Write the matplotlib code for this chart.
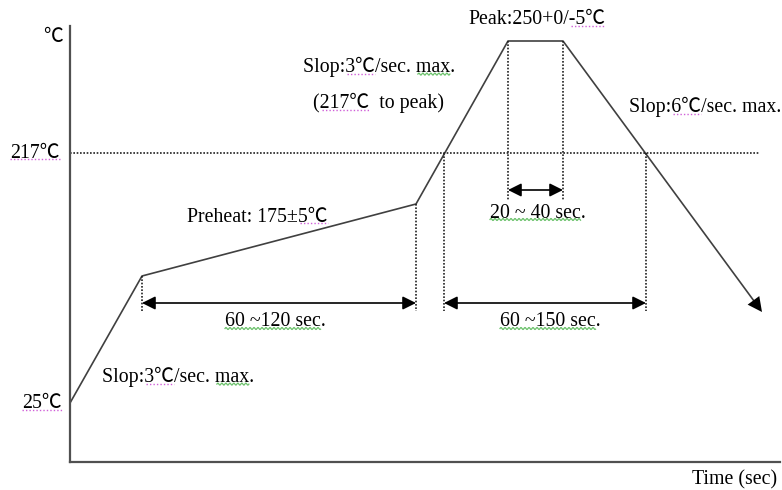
import matplotlib
matplotlib.use("Agg")
import matplotlib.pyplot as plt
import numpy as np

# schematic reflow profile (not to scale), units = drawing units from axis origin
profile_x = [0, 72, 346, 438, 493, 692]
profile_y = [59, 186, 258, 421, 421, 150]
liquidus_y = 309          # 217C line
cross_x = [374, 576]      # where the profile crosses 217C
arrow_y = 159             # 60~120 / 60~150 dimension arrows
dot_bottom = 151
peak_arrow_y = 272        # 20~40 dimension arrow
peak_dot_bottom = 262

texts = [
    # (x, y, text, ha)
    (-7, 424, "\u2103", "right"),
    (-10, 309, "217\u2103", "right"),
    (-8, 59, "25\u2103", "right"),
    (233, 395, "Slop:3\u2103/sec. max.", "left"),
    (243, 359, "(217\u2103  to peak)", "left"),
    (117, 245, "Preheat: 175\u00b15\u2103", "left"),
    (398, 442, "Peak:250+0/-5\u2103", "left"),
    (559, 355, "Slop:6\u2103/sec. max.", "left"),
    (420, 249, "20 ~ 40 sec.", "left"),
    (155, 140, "60 ~120 sec.", "left"),
    (430, 140, "60 ~150 sec.", "left"),
    (32, 85, "Slop:3\u2103/sec. max.", "left"),
]
# Word-style proofing marks: text index -> (substring, kind)
marks = {
    1: [("217\u2103", "dot")],
    2: [("25\u2103", "dot")],
    3: [("3\u2103", "dot"), ("max", "wave")],
    4: [("217\u2103", "dot")],
    5: [("5\u2103", "dot")],
    6: [("-5\u2103", "dot")],
    7: [("6\u2103", "dot")],
    8: [("20 ~ 40 sec", "wave")],
    9: [("60 ~120 sec", "wave")],
    10: [("60 ~150 sec", "wave")],
    11: [("3\u2103", "dot"), ("max", "wave")],
}

W, H = 782, 490
fig = plt.figure(figsize=(W / 100, H / 100), dpi=100)
ax = fig.add_axes([70 / W, 28 / H, 710 / W, 462 / H])
ax.set_xlim(0, 710)
ax.set_ylim(0, 462)
for s in ["top", "right"]:
    ax.spines[s].set_visible(False)
ax.spines["left"].set_bounds(0, 436)
for s in ["left", "bottom"]:
    ax.spines[s].set_color("#505050")
    ax.spines[s].set_linewidth(1.6)
ax.set_xticks([])
ax.set_yticks([])

fam = ["Liberation Serif", "Noto Sans CJK SC"]
fs = 14.3

# profile
line_c = "#404040"
ax.plot(profile_x[:-1] + [profile_x[-1] - 8], profile_y[:-1] + [profile_y[-1] + 11],
        color=line_c, lw=1.2, solid_capstyle="butt")
ax.annotate("", xy=(profile_x[-1], profile_y[-1]),
            xytext=(profile_x[-2], profile_y[-2]),
            arrowprops=dict(arrowstyle="-|>", color="black", lw=0, mutation_scale=26,
                            shrinkA=0, shrinkB=0))

# 217C dotted line
dot = dict(color="#202020", lw=1.2, ls=(0, (1, 1)))
ax.plot([0, 690], [liquidus_y, liquidus_y], **dot)

# vertical dotted guides
ax.plot([profile_x[1]] * 2, [profile_y[1], dot_bottom], **dot)
ax.plot([profile_x[2]] * 2, [profile_y[2], dot_bottom], **dot)
for cx in cross_x:
    ax.plot([cx, cx], [liquidus_y, dot_bottom], **dot)
for px in profile_x[3:5]:
    ax.plot([px, px], [profile_y[3], peak_dot_bottom], **dot)

# dimension arrows
arr = dict(arrowstyle="<|-|>", color="black", lw=1.2, mutation_scale=20,
           shrinkA=0, shrinkB=0)
ax.annotate("", xy=(profile_x[1], arrow_y), xytext=(profile_x[2], arrow_y), arrowprops=arr)
ax.annotate("", xy=(cross_x[0], arrow_y), xytext=(cross_x[1], arrow_y), arrowprops=arr)
ax.annotate("", xy=(profile_x[3], peak_arrow_y), xytext=(profile_x[4], peak_arrow_y),
            arrowprops=arr)

tobjs = []
for x, y, t, ha in texts:
    tobjs.append(ax.text(x, y, t, ha=ha, va="center", fontsize=fs, family=fam,
                         color="black", clip_on=False))

fig.text(777 / W, 1 - 480 / H, "Time (sec)", ha="right", va="center", fontsize=fs,
         family=fam)

# proofing underlines, placed from the measured text extents
fig.canvas.draw()
r = fig.canvas.get_renderer()


def width_of(s):
    if not s:
        return 0.0
    tmp = fig.text(0, 0, s, fontsize=fs, family=fam)
    w = tmp.get_window_extent(r).width
    tmp.remove()
    return w


for i, items in marks.items():
    t = tobjs[i]
    bb = t.get_window_extent(r)
    s = t.get_text()
    for sub, kind in items:
        k = s.index(sub)
        x0 = bb.x0 + width_of(s[:k]) + (2 if k else 0)
        x1 = bb.x0 + width_of(s[:k + len(sub)])
        yb = bb.y0 + 3.0
        if kind == "dot":
            fig.add_artist(plt.Line2D([x0 / W, x1 / W], [yb / H, yb / H],
                                      transform=fig.transFigure, color="#d060d8",
                                      lw=1.0, ls=(0, (1, 1.5))))
        else:
            xs = np.arange(x0, x1, 0.5)
            ys = yb + 1.0 * np.sin(2 * np.pi * (xs - x0) / 4.0)
            fig.add_artist(plt.Line2D(xs / W, ys / H, transform=fig.transFigure,
                                      color="#6cc26c", lw=0.9))

fig.savefig("out.png", dpi=100)
